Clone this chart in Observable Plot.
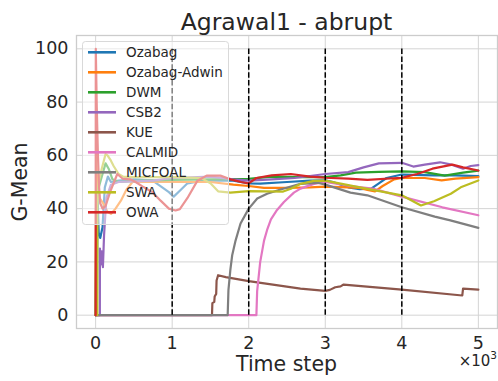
<!DOCTYPE html>
<html>
<head>
<meta charset="utf-8">
<script src="https://cdn.jsdelivr.net/npm/d3@7"></script>
<script src="https://cdn.jsdelivr.net/npm/@observablehq/plot@0.6"></script>
<style>
  body { margin: 0; background: #fff; }
  #wrap { position: relative; width: 498px; height: 381px; overflow: hidden; font-family: "DejaVu Sans", sans-serif; color: #262626; }
  #head { height: 33px; }
  #overlay { position: absolute; left: 0; top: 0; pointer-events: none; }
</style>
</head>
<body>
<div id="wrap">
  <div id="head"></div>
  <div id="chart"></div>
</div>
<script>
// ---------- data ----------
const title = "Agrawal1 - abrupt";
const xLabel = "Time step";
const yLabel = "G-Mean";
const names = ["Ozabag", "Ozabag-Adwin", "DWM", "CSB2", "KUE", "CALMID", "MICFOAL", "SWA", "OWA"];
const colors = ["#1f77b4", "#ff7f0e", "#2ca02c", "#9467bd", "#8c564b", "#e377c2", "#7f7f7f", "#bcbd22", "#d62728"];
const xTicks = [0, 1000, 2000, 3000, 4000, 5000];
const yTicks = [0, 20, 40, 60, 80, 100];
const driftPoints = [1000, 2000, 3000, 4000];

const ozabagT = [0, 15, 25, 40, 60, 90, 120, 160, 200, 300, 500, 740, 870, 957, 1020, 1110, 1200, 1400, 1800, 2000, 2150, 2500, 2800, 3000, 3100, 3300, 3450, 3600, 3700, 3800, 4000, 4430, 4700, 5000];
const ozabagV = [0, 0, 45, 31, 29, 33, 48, 52, 50, 50.5, 51, 50.6, 48, 46.2, 44.5, 47, 49.5, 50.5, 50.5, 49.5, 49.4, 50, 50.5, 50.6, 50, 48, 47.3, 47.5, 49.5, 51.5, 52.8, 52.5, 52.5, 52.2];

const adwinT = [0, 8, 20, 50, 100, 150, 200, 260, 330, 400, 480, 600, 1000, 1500, 1800, 2000, 2200, 2500, 2800, 3000, 3300, 3450, 3550, 3650, 3750, 3900, 4000, 4300, 4520, 4700, 5000];
const adwinV = [0, 59, 50, 44, 42, 39, 38, 40, 43, 47, 50, 50, 50, 50, 49, 48.5, 47.8, 47.8, 48, 48.3, 48, 47.8, 47, 46.5, 48.5, 51, 51.5, 51.5, 50.6, 51.3, 51.8];

const dwmT = [0, 10, 40, 80, 130, 170, 220, 300, 600, 1000, 1500, 2000, 2300, 2700, 3000, 3200, 3400, 3700, 4000, 4300, 4560, 4800, 5000];
const dwmV = [0, 45, 48, 52, 57, 55, 51, 50, 50.5, 50.8, 51, 51.2, 52, 51.8, 51.8, 52.5, 53.5, 53.8, 54, 53.7, 52.4, 53.5, 54.3];

const csb2T = [0, 55, 56, 65, 80, 95, 110, 140, 200, 300, 750, 1000, 1500, 1800, 2000, 2300, 2600, 3000, 3300, 3500, 3700, 4000, 4150, 4300, 4500, 4650, 4800, 4900, 5000];
const csb2V = [0, 0, 25, 19, 24, 18, 30, 44, 49, 50, 50.5, 51.5, 52, 51, 50.5, 51, 51.5, 53, 53.7, 55.5, 57, 57.2, 55.8, 56.5, 57.4, 56.5, 55, 56, 56.3];

const kueT = [0, 1520, 1525, 1550, 1555, 1575, 1580, 1600, 1700, 2000, 2676, 3000, 3060, 3130, 3200, 3240, 4000, 4790, 4800, 5000];
const kueV = [0, 0, 4.5, 5, 7, 8, 13, 15, 14.3, 12.8, 10, 9.1, 9.5, 10.5, 10.8, 11.5, 9.6, 7.4, 10, 9.6];

const calmidT = [0, 2100, 2110, 2150, 2200, 2240, 2290, 2370, 2460, 2590, 2676, 2850, 3000, 3329, 3620, 4000, 4530, 5000];
const calmidV = [0, 0, 9, 20, 28, 32, 36, 39.5, 42.5, 46, 47.5, 49.3, 50, 48.5, 47.5, 44.5, 40.5, 37.5];

const micfoalT = [0, 1725, 1735, 1760, 1784, 1828, 1893, 2000, 2111, 2240, 2415, 2676, 2900, 3000, 3329, 3550, 4000, 4430, 4634, 5000];
const micfoalV = [0, 0, 9.4, 17, 22.5, 28, 34.4, 40, 43.8, 45.6, 47.2, 49.3, 49.7, 49, 46, 45, 40.5, 37, 35.6, 32.8];

const swaT = [0, 22, 23, 40, 80, 130, 155, 200, 235, 300, 360, 500, 1000, 1380, 1500, 1600, 1760, 2000, 2450, 2550, 2676, 2850, 3000, 3200, 3550, 4000, 4250, 4420, 4640, 4770, 5000];
const swaV = [0, 0, 42, 50, 55, 60.5, 60, 58, 56, 53, 52, 51.8, 51.8, 51.5, 49.5, 46.5, 46, 46.6, 46.4, 47.5, 49.3, 50.4, 50.5, 49.4, 47.4, 45, 41.2, 42.8, 45.6, 48, 50.6];

const owaT = [0, 2, 15, 30, 45, 60, 90, 130, 196, 283, 350, 450, 522, 631, 740, 849, 957, 1044, 1100, 1200, 1330, 1450, 1630, 1760, 1900, 2000, 2100, 2300, 2550, 2800, 3000, 3300, 3550, 4000, 4200, 4400, 4660, 4800, 5000];
const owaV = [0, 100, 78, 60, 48, 42, 40, 41, 46.8, 53, 51.3, 51, 50, 48, 46.2, 43, 40, 39.3, 39.8, 44, 50.5, 52.4, 52.4, 51, 50, 49.5, 51.5, 52.5, 53, 52, 51.6, 51.3, 50.8, 51.6, 53, 55, 56.5, 55.5, 54.3];

const seriesT = [ozabagT, adwinT, dwmT, csb2T, kueT, calmidT, micfoalT, swaT, owaT];
const seriesV = [ozabagV, adwinV, dwmV, csb2V, kueV, calmidV, micfoalV, swaV, owaV];

// ---------- chart ----------
const FONT = "DejaVu Sans";
const series = names.map((name, i) => seriesT[i].map((t, j) => ({ name, t, v: seriesV[i][j] })));

const chart = Plot.plot({
  width: 498,
  height: 348,
  marginLeft: 76,
  marginRight: 1,
  marginTop: 2,
  marginBottom: 53,
  style: { fontFamily: FONT, fontSize: "17.5px", color: "#262626", background: "white", overflow: "visible" },
  x: { type: "linear", domain: [-250, 5250] },
  y: { type: "linear", domain: [-5, 105] },
  marks: [
    Plot.gridX(xTicks, { stroke: "#d4d4d4", strokeOpacity: 1, strokeWidth: 1 }),
    Plot.gridY(yTicks, { stroke: "#d4d4d4", strokeOpacity: 1, strokeWidth: 1 }),
    Plot.frame({ stroke: "#cccccc", strokeWidth: 1.3 }),
    Plot.axisX({ ticks: xTicks, tickSize: 0, tickPadding: 8, tickFormat: d => d / 1000, label: null, fontSize: 17.5, fill: "#262626" }),
    Plot.axisY({ ticks: yTicks, tickSize: 0, tickPadding: 8, label: null, fontSize: 17.5, fill: "#262626" }),
    ...series.map((rows, i) => Plot.line(rows, { x: "t", y: "v", stroke: colors[i], strokeWidth: 2.2, strokeLinejoin: "round" })),
    Plot.ruleX(driftPoints, { y1: 0, y2: 100, stroke: "black", strokeWidth: 1.5, strokeDasharray: "5.5,2.4" })
  ]
});
document.getElementById("chart").appendChild(chart);

// ---------- overlay: title, axis labels, offset text, legend ----------
const ov = d3.select("#wrap").append("svg").attr("id", "overlay").attr("width", 498).attr("height", 381)
  .attr("font-family", FONT).attr("fill", "#262626");
ov.append("text").attr("x", 286.5).attr("y", 30).attr("text-anchor", "middle")
  .attr("font-size", 23.5).text(title);
ov.append("text").attr("transform", "translate(26.5,182) rotate(-90)").attr("text-anchor", "middle")
  .attr("font-size", 20.5).text(yLabel);
ov.append("text").attr("x", 286.5).attr("y", 371).attr("text-anchor", "middle")
  .attr("font-size", 20.5).text(xLabel);
const off = ov.append("text").attr("x", 497).attr("y", 366).attr("text-anchor", "end").attr("font-size", 15);
off.append("tspan").text("×10");
off.append("tspan").attr("dy", -7.5).attr("font-size", 10.5).text("3");

const lg = ov.append("g");
lg.append("rect").attr("x", 82.5).attr("y", 41.5).attr("width", 146).attr("height", 183).attr("rx", 3)
  .attr("fill", "white").attr("fill-opacity", 0.5).attr("stroke", "#d9d9d9").attr("stroke-width", 1);
names.forEach((n, i) => {
  const cy = 52.3 + 20 * i;
  lg.append("line").attr("x1", 88).attr("x2", 116).attr("y1", cy).attr("y2", cy)
    .attr("stroke", colors[i]).attr("stroke-width", 2.6);
  lg.append("text").attr("x", 126).attr("y", cy + 5).attr("font-size", 13.5).text(n);
});
</script>
</body>
</html>
